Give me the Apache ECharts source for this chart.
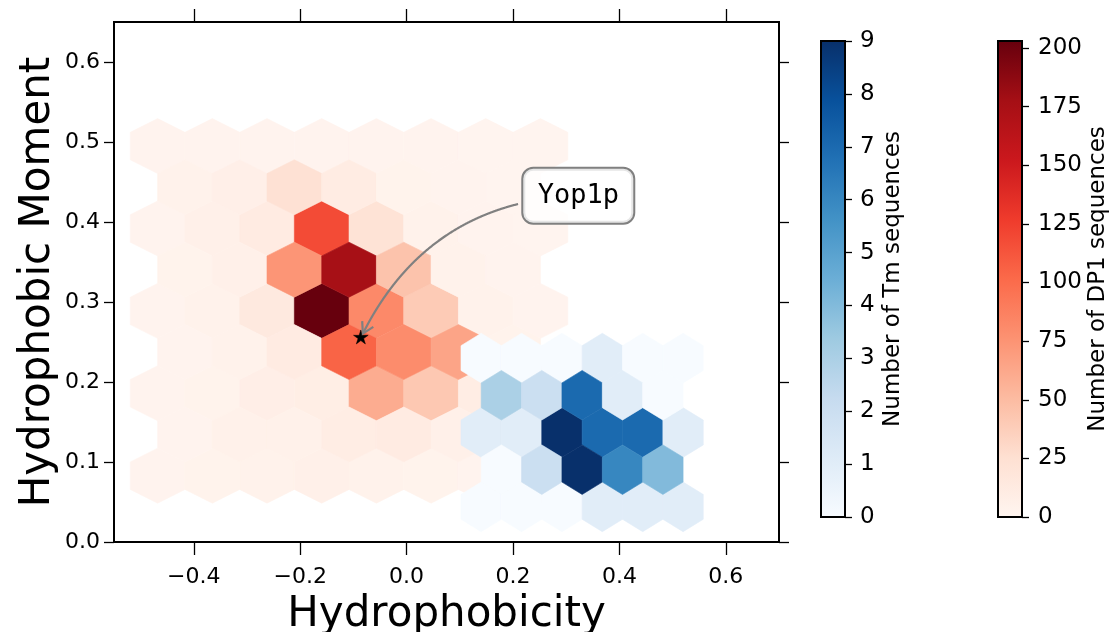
<!DOCTYPE html>
<html>
<head>
<meta charset="utf-8">
<script src="https://cdn.jsdelivr.net/npm/echarts@6/dist/echarts.min.js"></script>
<style>
  html, body { margin: 0; padding: 0; background: #ffffff; }
  #chart { width: 1114px; height: 632px; }
</style>
</head>
<body>
<div id="chart"></div>
<script>
// ---- hexbin counts, rows listed from bottom to top ----
// DP1 sequences (gridsize 7): lattice 1 rows have 8 cells, offset lattice 2 rows have 7
const dp1Lattice1 = [
  [2, 3, 4, 6, 4, 3, 2, 1],
  [2, 3, 8, 9, 60, 42, 10, 2],
  [2, 4, 14, 203, 82, 40, 4, 2],
  [2, 6, 12, 118, 22, 4, 2, 1],
  [2, 2, 2, 2, 2, 2, 1, 1]
];
const dp1Lattice2 = [
  [2, 5, 5, 10, 12, 6, 2],
  [2, 4, 12, 105, 80, 65, 3],
  [3, 6, 74, 176, 45, 4, 2],
  [4, 7, 24, 11, 3, 2, 1]
];
// Tm sequences (gridsize 5): lattice 1 rows have 6 cells, lattice 2 rows have 5
const tmLattice1 = [
  [0, 0, 0, 1, 1, 1],
  [1, 1, 9, 7, 7, 1],
  [0, 0, 0, 1, 0, 0]
];
const tmLattice2 = [
  [0, 2, 9, 6, 4],
  [3, 2, 7, 1, 0]
];

// bin lattice origin and spacing, in data units
const dp1Bins = { xmin: -0.468, ymin: 0.0829, sx: 0.1028, sy: 0.1030 };
const tmBins = { xmin: 0.1402, ymin: 0.0439, sx: 0.0759, sy: 0.0930 };

// colour scale limits
const dp1Max = 203;
const tmMax = 9;

// ticks
const xTicks = [-0.4, -0.2, 0.0, 0.2, 0.4, 0.6];
const yTicks = [0.0, 0.1, 0.2, 0.3, 0.4, 0.5, 0.6];
const tmTicks = [0, 1, 2, 3, 4, 5, 6, 7, 8, 9];
const dp1Ticks = [0, 25, 50, 75, 100, 125, 150, 175, 200];

// highlighted sequence and where its label sits
const yop1pPoint = [-0.086, 0.2554];
const yop1pLabelAt = [0.3227, 0.4328];
const yop1pName = 'Yop1p';

// matplotlib Reds / Blues
const REDS = ['#fff5f0', '#fee0d2', '#fcbba1', '#fc9272', '#fb6a4a', '#ef3b2c', '#cb181d', '#a50f15', '#67000d'];
const BLUES = ['#f7fbff', '#deebf7', '#c6dbef', '#9ecae1', '#6baed6', '#4292c6', '#2171b5', '#08519c', '#08306b'];

const FONT = '"DejaVu Sans", "Liberation Sans", sans-serif';

// expand lattice tables into [x, y, count] cells
function hexCells(bins, lat1, lat2) {
  const cells = [];
  lat1.forEach((row, j) => row.forEach((c, i) => {
    cells.push([bins.xmin + i * bins.sx, bins.ymin + j * bins.sy, c]);
  }));
  lat2.forEach((row, j) => row.forEach((c, i) => {
    cells.push([bins.xmin + (i + 0.5) * bins.sx, bins.ymin + (j + 0.5) * bins.sy, c]);
  }));
  return cells;
}

function hexRenderer(bins) {
  const hx = bins.sx / 2, hy = bins.sy / 3;
  const offs = [[hx, -hy / 2], [hx, hy / 2], [0, hy], [-hx, hy / 2], [-hx, -hy / 2], [0, -hy]];
  return function (params, api) {
    const cx = api.value(0), cy = api.value(1);
    const pts = offs.map(o => api.coord([cx + o[0], cy + o[1]]));
    const color = api.visual('color');
    return {
      type: 'polygon',
      shape: { points: pts },
      style: { fill: color, stroke: color, lineWidth: 0.6 }
    };
  };
}

function colorbarRenderer(colors, max) {
  return function (params, api) {
    const tl = api.coord([0, max]);
    const br = api.coord([1, 0]);
    const w = br[0] - tl[0], h = br[1] - tl[1];
    const stops = colors.map((c, i) => ({ offset: i / (colors.length - 1), color: c }));
    return {
      type: 'group',
      children: [
        { type: 'rect', shape: { x: tl[0], y: tl[1], width: w, height: h },
          style: { fill: new echarts.graphic.LinearGradient(0, 1, 0, 0, stops) } },
        { type: 'rect', shape: { x: tl[0], y: tl[1], width: w, height: h },
          style: { fill: null, stroke: '#000', lineWidth: 2 } }
      ]
    };
  };
}

// label box, curved arrow and star marker
const BOX_W = 110, BOX_H = 54;
function annotationRenderer(params, api) {
  const star = api.coord(yop1pPoint);
  const lab = api.coord(yop1pLabelAt);

  // arc3-style quadratic curve from label to point
  const rad = 0.3;
  const mx = (lab[0] + star[0]) / 2, my = (lab[1] + star[1]) / 2;
  const dX = star[0] - lab[0], dY = star[1] - lab[1];
  const c = [mx - rad * dY, my + rad * dX];
  const bez = t => [
    (1 - t) * (1 - t) * lab[0] + 2 * t * (1 - t) * c[0] + t * t * star[0],
    (1 - t) * (1 - t) * lab[1] + 2 * t * (1 - t) * c[1] + t * t * star[1]
  ];
  const pts = [];
  for (let k = 0; k <= 600; k++) {
    const p = bez(k / 600);
    if (Math.abs(p[0] - lab[0]) < BOX_W / 2 + 5 && Math.abs(p[1] - lab[1]) < BOX_H / 2 + 5) continue;
    if (Math.hypot(p[0] - star[0], p[1] - star[1]) < 4.5) break;
    pts.push(p);
  }
  const tip = pts[pts.length - 1];
  const prev = pts[Math.max(0, pts.length - 8)];
  const ux = tip[0] - prev[0], uy = tip[1] - prev[1];
  const ul = Math.hypot(ux, uy);
  const bx = -ux / ul, by = -uy / ul;
  const L = 12.5, th = 30 * Math.PI / 180;
  const rot = (a) => [bx * Math.cos(a) - by * Math.sin(a), bx * Math.sin(a) + by * Math.cos(a)];
  const w1 = rot(th), w2 = rot(-th);

  // five-point star
  const R = 7.7, r = R * 0.381966;
  const starPts = [];
  for (let k = 0; k < 10; k++) {
    const a = -Math.PI / 2 + k * Math.PI / 5;
    const rr = k % 2 === 0 ? R : r;
    starPts.push([star[0] + rr * Math.cos(a), star[1] + rr * Math.sin(a)]);
  }

  return {
    type: 'group',
    children: [
      { type: 'polygon', shape: { points: starPts }, style: { fill: '#000', stroke: '#000', lineWidth: 0.5 } },
      { type: 'polyline', shape: { points: pts }, style: { stroke: '#808080', lineWidth: 2.2, fill: null } },
      { type: 'polyline',
        shape: { points: [
          [tip[0] + L * w1[0], tip[1] + L * w1[1]], tip, [tip[0] + L * w2[0], tip[1] + L * w2[1]]
        ] },
        style: { stroke: '#808080', lineWidth: 2.2, fill: null, lineJoin: 'miter' } },
      { type: 'text', x: lab[0], y: lab[1],
        style: {
          text: yop1pName,
          font: '27px "DejaVu Sans Mono", "Liberation Mono", monospace',
          fill: '#000',
          align: 'center', verticalAlign: 'middle',
          width: BOX_W - 28, height: BOX_H - 22, lineHeight: 32,
          backgroundColor: 'rgba(255,255,255,0.8)',
          borderColor: '#808080', borderWidth: 2, borderRadius: 10,
          padding: [11, 14]
        } }
    ]
  };
}

const fmt1 = v => (v < 0 ? '\u2212' : '') + Math.abs(v).toFixed(1);
const tickLine = { color: '#000', width: 1.3 };
const noLine = { show: false, onZero: false };

const chart = echarts.init(document.getElementById('chart'), null, { renderer: 'canvas' });
chart.setOption({
  animation: false,
  backgroundColor: '#ffffff',
  textStyle: { fontFamily: FONT, color: '#000' },
  grid: [
    { left: 114, top: 22, width: 665, height: 520, show: true, borderColor: '#000', borderWidth: 2,
      backgroundColor: 'transparent', containLabel: false, outerBoundsMode: 'none' },
    { left: 821, top: 41, width: 24, height: 476, show: false, containLabel: false, outerBoundsMode: 'none' },
    { left: 998, top: 41, width: 24, height: 476, show: false, containLabel: false, outerBoundsMode: 'none' }
  ],
  xAxis: [
    { gridIndex: 0, type: 'value', min: -0.55, max: 0.7, position: 'bottom',
      axisLine: noLine, splitLine: { show: false },
      axisTick: { show: true, length: 13, customValues: xTicks, lineStyle: tickLine },
      axisLabel: { show: true, customValues: xTicks, formatter: fmt1, fontSize: 22, fontFamily: FONT, color: '#000', margin: 24 },
      name: 'Hydrophobicity', nameLocation: 'middle', nameGap: 52, nameMoveOverlap: false,
      nameTextStyle: { fontSize: 42, fontFamily: FONT, color: '#000' } },
    { gridIndex: 0, type: 'value', min: -0.55, max: 0.7, position: 'top',
      axisLine: noLine, splitLine: { show: false },
      axisTick: { show: true, length: 13, customValues: xTicks, lineStyle: tickLine },
      axisLabel: { show: false } },
    { gridIndex: 1, type: 'value', min: 0, max: 1, show: false, axisLine: noLine },
    { gridIndex: 2, type: 'value', min: 0, max: 1, show: false, axisLine: noLine }
  ],
  yAxis: [
    { gridIndex: 0, type: 'value', min: 0, max: 0.65, position: 'left',
      axisLine: noLine, splitLine: { show: false },
      axisTick: { show: true, length: 10, customValues: yTicks, lineStyle: tickLine },
      axisLabel: { show: true, customValues: yTicks, formatter: fmt1, fontSize: 22, fontFamily: FONT, color: '#000', margin: 14 },
      name: 'Hydrophobic Moment', nameLocation: 'middle', nameGap: 55, nameRotate: 90, nameMoveOverlap: false,
      nameTextStyle: { fontSize: 42, fontFamily: FONT, color: '#000' } },
    { gridIndex: 0, type: 'value', min: 0, max: 0.65, position: 'right',
      axisLine: noLine, splitLine: { show: false },
      axisTick: { show: true, length: 10, customValues: yTicks, lineStyle: tickLine },
      axisLabel: { show: false } },
    { gridIndex: 1, type: 'value', min: 0, max: tmMax, position: 'right',
      axisLine: noLine, splitLine: { show: false },
      axisTick: { show: true, length: 7, customValues: tmTicks, lineStyle: tickLine },
      axisLabel: { show: true, customValues: tmTicks, fontSize: 23, fontFamily: FONT, color: '#000', margin: 15 },
      name: 'Number of Tm sequences', nameLocation: 'middle', nameGap: 37, nameRotate: 90, nameMoveOverlap: false,
      nameTextStyle: { fontSize: 23, fontFamily: FONT, color: '#000' } },
    { gridIndex: 2, type: 'value', min: 0, max: dp1Max, position: 'right',
      axisLine: noLine, splitLine: { show: false },
      axisTick: { show: true, length: 7, customValues: dp1Ticks, lineStyle: tickLine },
      axisLabel: { show: true, customValues: dp1Ticks, fontSize: 23, fontFamily: FONT, color: '#000', margin: 16 },
      name: 'Number of DP1 sequences', nameLocation: 'middle', nameGap: 65, nameRotate: 90, nameMoveOverlap: false,
      nameTextStyle: { fontSize: 23, fontFamily: FONT, color: '#000' } }
  ],
  visualMap: [
    { type: 'continuous', show: false, seriesIndex: 0, dimension: 2, min: 0, max: dp1Max, inRange: { color: REDS } },
    { type: 'continuous', show: false, seriesIndex: 1, dimension: 2, min: 0, max: tmMax, inRange: { color: BLUES } }
  ],
  series: [
    { name: 'DP1', type: 'custom', coordinateSystem: 'cartesian2d', xAxisIndex: 0, yAxisIndex: 0,
      renderItem: hexRenderer(dp1Bins), encode: { x: 0, y: 1 },
      data: hexCells(dp1Bins, dp1Lattice1, dp1Lattice2), z: 2, silent: true },
    { name: 'Tm', type: 'custom', coordinateSystem: 'cartesian2d', xAxisIndex: 0, yAxisIndex: 0,
      renderItem: hexRenderer(tmBins), encode: { x: 0, y: 1 },
      data: hexCells(tmBins, tmLattice1, tmLattice2), z: 3, silent: true },
    { name: 'Yop1p', type: 'custom', coordinateSystem: 'cartesian2d', xAxisIndex: 0, yAxisIndex: 0,
      renderItem: annotationRenderer, encode: { x: 0, y: 1 },
      data: [[yop1pPoint[0], yop1pPoint[1]]], z: 5, silent: true },
    { name: 'Tm colorbar', type: 'custom', coordinateSystem: 'cartesian2d', xAxisIndex: 2, yAxisIndex: 2,
      renderItem: colorbarRenderer(BLUES, tmMax), encode: { x: 0, y: 1 }, data: [[0, 0]], silent: true },
    { name: 'DP1 colorbar', type: 'custom', coordinateSystem: 'cartesian2d', xAxisIndex: 3, yAxisIndex: 3,
      renderItem: colorbarRenderer(REDS, dp1Max), encode: { x: 0, y: 1 }, data: [[0, 0]], silent: true }
  ]
});
</script>
</body>
</html>
